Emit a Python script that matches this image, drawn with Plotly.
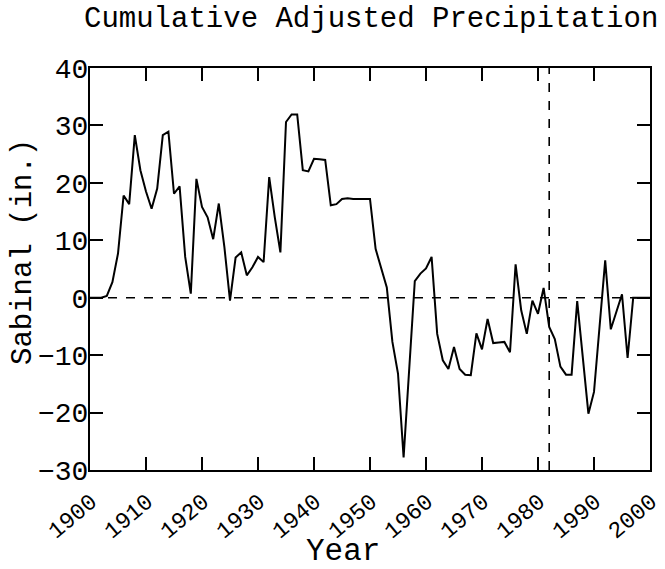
import plotly.graph_objects as go

years = list(range(1900, 2001))
sabinal = [
    0, 0, 0, 0.3, 2.7, 7.7, 17.8, 16.3, 28.3, 22.2,
    18.5, 15.5, 19.0, 28.3, 28.9, 18.1, 19.4, 7.1, 0.7, 20.7,
    15.8, 14.0, 10.2, 16.4, 8.8, -0.5, 7.0, 7.9, 3.9, 5.3,
    7.1, 6.2, 21.0, 14.0, 7.9, 30.6, 31.9, 31.9, 22.2, 22.0,
    24.2, 24.1, 24.0, 16.1, 16.3, 17.2, 17.3, 17.2, 17.2, 17.2,
    17.2, 8.5, 5.3, 1.8, -7.7, -13.2, -27.8, -12.5, 2.9, 4.2,
    5.1, 7.1, -6.3, -10.9, -12.4, -8.6, -12.4, -13.4, -13.5, -6.2,
    -9.0, -3.7, -7.9, -7.8, -7.7, -9.5, 5.8, -2.2, -6.3, -0.5,
    -2.8, 1.7, -5.1, -7.2, -12.0, -13.4, -13.4, -0.6, -10.3, -20.2,
    -16.4, -5.0, 6.5, -5.5, -2.5, 0.6, -10.5, 0, 0, 0,
    0,
]
x_ticks = list(range(1900, 2001, 10))
y_ticks = list(range(-30, 41, 10))
baseline = [0]
marker_year = [1982]

FONT = "Liberation Mono"

fig = go.Figure()
fig.add_trace(go.Scatter(x=years, y=sabinal, mode="lines",
                         line=dict(color="black", width=2), showlegend=False,
                         hoverinfo="skip"))
for b in baseline:
    fig.add_hline(y=b, line=dict(color="black", width=1.6, dash="dash"))
for m in marker_year:
    fig.add_vline(x=m, line=dict(color="black", width=1.6, dash="dash"))

axis_common = dict(showline=True, linewidth=2, linecolor="black", mirror="ticks",
                   ticks="inside", ticklen=13, tickwidth=1.5, tickcolor="black",
                   showgrid=False, zeroline=False, automargin=False)
fig.update_xaxes(range=[1900, 2000], tickvals=x_ticks, tickangle=-40,
                 ticklabelshift=1, ticklabelstandoff=7, ticklabeloverflow="allow",
                 tickfont=dict(family=FONT, size=23, color="black"), **axis_common)
fig.update_yaxes(range=[-30, 40], tickvals=y_ticks, ticklabelstandoff=-6,
                 ticklabeloverflow="allow",
                 tickfont=dict(family=FONT, size=28, color="black"), **axis_common)

fig.update_layout(
    width=665, height=569,
    margin=dict(l=90, r=15, t=68, b=99),
    paper_bgcolor="white", plot_bgcolor="white",
    font=dict(family=FONT, color="black"),
)
W, H = 560.0, 402.0
fig.add_annotation(text="Cumulative Adjusted Precipitation", xref="paper", yref="paper",
                   x=(371 - 90) / W, y=(470 - 19) / H, showarrow=False,
                   xanchor="center", yanchor="middle", font=dict(family=FONT, size=29))
fig.add_annotation(text="Year", xref="paper", yref="paper",
                   x=(343 - 90) / W, y=(470 - 551) / H, showarrow=False,
                   xanchor="center", yanchor="middle", font=dict(family=FONT, size=31))
fig.add_annotation(text="Sabinal (in.)", xref="paper", yref="paper", textangle=-90,
                   x=(23 - 90) / W, y=(470 - 252) / H, showarrow=False,
                   xanchor="center", yanchor="middle", font=dict(family=FONT, size=29))

fig.write_html("out.html", config={"displayModeBar": False},
               post_script="document.body.style.margin='0';document.body.style.overflow='hidden';")
